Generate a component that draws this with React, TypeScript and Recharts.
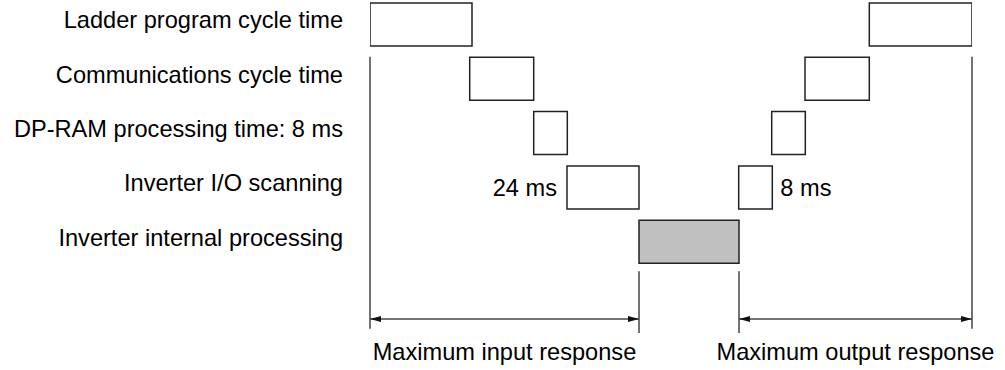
import { ComposedChart, Bar, XAxis, YAxis, ReferenceLine, LabelList } from "recharts";

// rows of the timing diagram, top to bottom
const rows = [
  "Ladder program cycle time",
  "Communications cycle time",
  "DP-RAM processing time: 8 ms",
  "Inverter I/O scanning",
  "Inverter internal processing",
];

// time spans (arbitrary time units)
const inputSpans: (number[] | null)[] = [[0, 102], [99.7, 163.7], [163.7, 197.3], [197, 269], null];
const internalSpans: (number[] | null)[] = [null, null, null, null, [269, 369]];
const outputSpans: (number[] | null)[] = [[499.3, 602], [435, 499.3], [401.7, 435.3], [368.7, 402.3], null];
const inputNotes = ["", "", "", "24 ms", ""];
const outputNotes = ["", "", "", "8 ms", ""];

// response brackets: time position, vertical extent in row units (0 = first row centre)
const bracketLines = [
  { x: 0, y1: 0.6, y2: 5.61 },
  { x: 269, y1: 4.55, y2: 5.69 },
  { x: 369, y1: 4.55, y2: 5.69 },
  { x: 602, y1: 0.6, y2: 5.61 },
];
const arrowRow = 5.43;
const responses = [
  { from: 0, to: 269, name: "Maximum input response" },
  { from: 369, to: 602, name: "Maximum output response" },
];

const data = rows.map((row, i) => ({
  row,
  input: inputSpans[i],
  internal: internalSpans[i],
  output: outputSpans[i],
  inNote: inputNotes[i],
  outNote: outputNotes[i],
}));

const FONT = 23.6;
const INK = "#222";

const RowTick = (p: any) => (
  <text x={p.x} y={p.y} dy={4.2} textAnchor="end" fontSize={FONT} fill="#000">
    {p.payload.value}
  </text>
);

const ArrowLine = (p: any) => {
  const { x1, y1, x2, y2 } = p;
  const a = Math.min(x1, x2);
  const b = Math.max(x1, x2);
  const y = y1;
  return (
    <g>
      <line x1={a} y1={y} x2={b} y2={y2} stroke="#444" strokeWidth={1.3} />
      <polygon points={`${a},${y} ${a + 11},${y - 3} ${a + 11},${y + 3}`} fill="#111" />
      <polygon points={`${b},${y} ${b - 11},${y - 3} ${b - 11},${y + 3}`} fill="#111" />
    </g>
  );
};

export default function App() {
  return (
    <div style={{ position: "absolute", left: 0, top: 0, fontFamily: "'Liberation Sans', Arial, sans-serif" }}>
      <ComposedChart
        width={1005}
        height={370}
        data={data}
        layout="vertical"
        barSize={43}
        barGap={-43}
        margin={{ top: -3, right: 33, bottom: 0, left: 0 }}
      >
        <XAxis type="number" domain={[0, 602]} allowDataOverflow hide />
        <YAxis
          yAxisId="c"
          type="category"
          dataKey="row"
          width={370}
          axisLine={false}
          tickLine={false}
          tickSize={0}
          tickMargin={27}
          interval={0}
          padding={{ top: 0, bottom: 101.5 }}
          tick={RowTick}
        />
        {/* row-unit axis: row index 0..4 at row centres, used for the bracket lines */}
        <YAxis yAxisId="n" type="number" padding={{ top: 27.15, bottom: 128.65 }} hide />
        <Bar yAxisId="c" dataKey="input" fill="#fff" stroke={INK} strokeWidth={1.5} isAnimationActive={false}>
          <LabelList dataKey="inNote" position="left" offset={10} fontSize={FONT} fill="#000" />
        </Bar>
        <Bar yAxisId="c" dataKey="internal" fill="#c0c0c0" stroke={INK} strokeWidth={1.5} isAnimationActive={false} />
        <Bar yAxisId="c" dataKey="output" fill="#fff" stroke={INK} strokeWidth={1.5} isAnimationActive={false}>
          <LabelList dataKey="outNote" position="right" offset={8} fontSize={FONT} fill="#000" />
        </Bar>
        {bracketLines.map((l, i) => (
          <ReferenceLine
            key={"v" + i}
            yAxisId="n"
            ifOverflow="visible"
            segment={[{ x: l.x, y: l.y1 }, { x: l.x, y: l.y2 }]}
            stroke="#444"
            strokeWidth={1.5}
          />
        ))}
        {responses.map((r) => (
          <ReferenceLine
            key={r.name}
            yAxisId="n"
            ifOverflow="visible"
            segment={[{ x: r.from, y: arrowRow }, { x: r.to, y: arrowRow }]}
            shape={ArrowLine}
            label={{ value: r.name, position: "bottom", offset: 24, fontSize: FONT, fill: "#000" }}
          />
        ))}
      </ComposedChart>
    </div>
  );
}
